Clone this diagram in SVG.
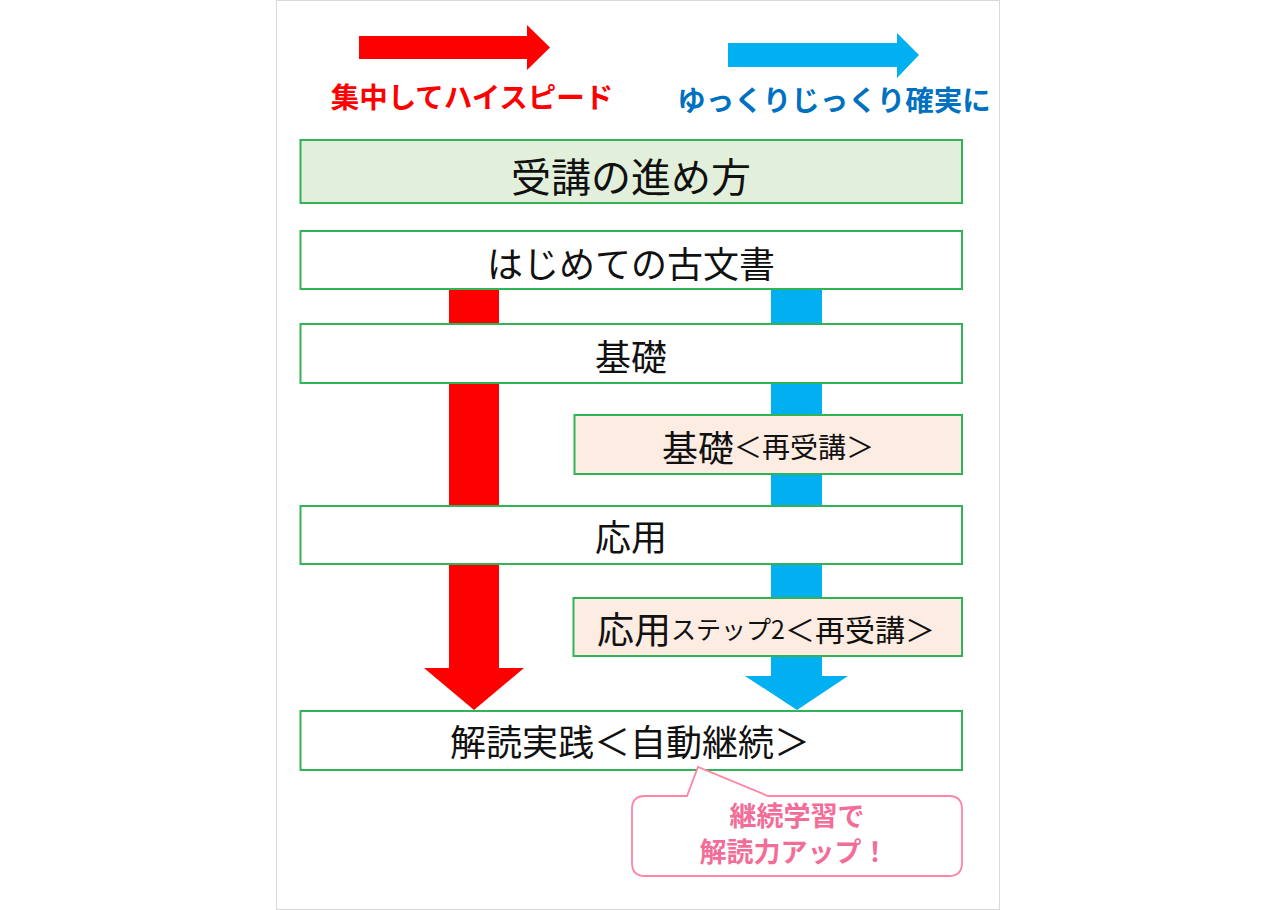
<svg xmlns="http://www.w3.org/2000/svg" width="1271" height="910" viewBox="0 0 1271 910">
<style>
.t{font-family:"Noto Sans CJK JP","Noto Sans",sans-serif;text-anchor:middle;dominant-baseline:central;fill:#111}
.box{fill:#ffffff;stroke:#33b357;stroke-width:2}
.peach{fill:#fcece2;stroke:#33b357;stroke-width:2}
.lg{font-weight:bold;font-size:28.5px}
.pink{fill:#f26e98;font-weight:bold;font-size:27px}
</style>
<rect x="276.5" y="0.5" width="723" height="909" fill="#ffffff" stroke="#d9d9d9" stroke-width="1"/>
<g id="legend-fast">
<polygon points="359,36 527,36 527,25 550,47.5 527,70 527,59 359,59" fill="#ff0000"/>
<text class="t lg" x="472" y="95" style="fill:#ff0000">集中してハイスピード</text>
</g>
<g id="legend-slow">
<polygon points="728,43 897,43 897,33 919,55 897,78 897,67 728,67" fill="#00b0f0"/>
<text class="t lg" x="834" y="98" style="fill:#0070c0">ゆっくりじっくり確実に</text>
</g>
<g id="connectors">
<polygon points="449,289 499,289 499,668 524,668 474,710 424,668 449,668" fill="#ff0000"/>
<polygon points="771,289 822,289 822,676 848,676 797,710 745,676 771,676" fill="#00b0f0"/>
</g>
<g id="title">
<rect x="300.5" y="140" width="661.5" height="63" fill="#e2efda" stroke="#33b357" stroke-width="2"/>
<text class="t" x="631" y="175" font-size="40">受講の進め方</text>
</g>
<g id="node-intro">
<rect class="box" x="300.5" y="231" width="661.5" height="58"/>
<text class="t" x="631" y="262" font-size="36">はじめての古文書</text>
</g>
<g id="node-basic">
<rect class="box" x="300.5" y="324" width="661.5" height="59"/>
<text class="t" x="631" y="355" font-size="36">基礎</text>
</g>
<g id="node-basic-retake">
<rect class="peach" x="574.5" y="415" width="387.5" height="59"/>
<text class="t" x="768" y="446"><tspan font-size="36">基礎</tspan><tspan font-size="28">＜再受講＞</tspan></text>
</g>
<g id="node-applied">
<rect class="box" x="300.5" y="506" width="661.5" height="58"/>
<text class="t" x="631" y="535" font-size="36">応用</text>
</g>
<g id="node-applied-retake">
<rect class="peach" x="573.5" y="598" width="388.5" height="58"/>
<text class="t" x="766" y="628"><tspan font-size="37">応用</tspan><tspan font-size="25">ステップ2</tspan><tspan font-size="30">＜再受講＞</tspan></text>
</g>
<g id="node-practice">
<rect class="box" x="300.5" y="711" width="661.5" height="59"/>
<text class="t" x="630" y="740" font-size="36">解読実践＜自動継続＞</text>
</g>
<g id="callout">
<path d="M645,796 L687,796 L698,767 L768,796 L949,796 Q962,796 962,809 L962,863 Q962,876 949,876 L645,876 Q632,876 632,863 L632,809 Q632,796 645,796 Z" fill="#ffffff" stroke="#ff85a5" stroke-width="1.8"/>
<text class="t pink" x="797" y="814">継続学習で</text>
<text class="t pink" x="794" y="850">解読力アップ！</text>
</g>
</svg>
